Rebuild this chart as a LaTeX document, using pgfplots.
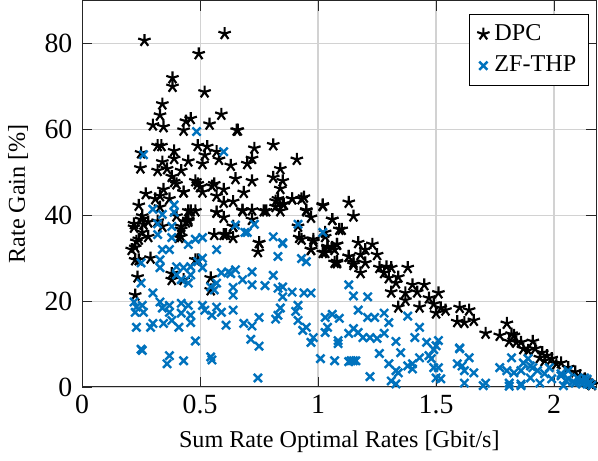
\documentclass[border=0pt]{standalone}
\usepackage{pgfplots}
\pgfplotsset{compat=1.18}
\usepackage{fontspec}
\setmainfont{Liberation Serif}
\definecolor{mblue}{rgb}{0,0.447,0.741}
\definecolor{axgray}{rgb}{0.15,0.15,0.15}
\begin{document}
\begin{tikzpicture}
\begin{axis}[
  width=213pt, height=160pt, scale only axis,
  xmin=0, xmax=2.18, ymin=0, ymax=90,
  xtick={0,0.5,1,1.5,2}, ytick={0,20,40,60,80},
  xticklabels={0,0.5,1,1.5,2},
  /pgf/number format/assume math mode=true,
  xmajorgrids, ymajorgrids,
  major grid style={color=gray!35, line width=0.5pt},
  axis line style={axgray},
  tick style={axgray},
  tick align=inside,
  xtick pos=both, ytick pos=both,
  xlabel={Sum Rate Optimal Rates [Gbit/s]},
  ylabel={Rate Gain [\%]},
  ticklabel style={font=\fontsize{11.5}{13}\selectfont},
  yticklabel style={xshift=-0.5pt},
  legend style={at={(0.985,0.965)}, anchor=north east, draw=black, fill=white, font=\normalsize, cells={anchor=west}, row sep=1pt},
  legend cell align=left,
]
\addplot[only marks, mark=star, mark size=2.7pt, black, line width=0.9pt] coordinates {
(0.264,80.7)(0.604,82.3)(0.494,77.6)(0.383,72)(0.383,70)(0.519,68.7)(0.34,65.9)(0.33,63.3)(0.30,61)(0.345,60.6)
(0.43,59.8)(0.44,61.9)(0.46,62.5)(0.54,61.2)(0.59,63.5)(0.655,59.8)(0.25,54.5)(0.247,51)(0.32,56.2)(0.336,56.2)
(0.39,55)(0.39,53.2)(0.45,52.6)(0.49,56.2)(0.53,56)(0.52,54)(0.57,54.8)(0.51,52)(0.58,53)(0.63,51.6)
(0.70,52)(0.72,53.2)(0.73,55.6)(0.81,56.4)(0.91,53)(0.84,50.8)(0.34,52.4)(0.36,50.8)(0.32,50.4)(0.38,49)
(0.42,50.4)(0.39,47.8)(0.48,48)(0.50,46.6)(0.55,46.8)(0.60,46)(0.51,45.4)(0.57,44.5)(0.345,46)(0.31,43.8)
(0.27,45)(0.24,42.3)(0.43,45.4)(0.46,41)(0.57,40.7)(0.45,39)(0.42,37.4)(0.255,39.8)(0.22,37.2)(0.26,37.9)
(0.255,36)(0.24,34.4)(0.28,35)(0.34,37.4)(0.42,35)(0.56,35.5)(0.60,35.5)(0.60,39.5)(0.65,48.5)(0.72,48)
(0.81,48.8)(0.85,48)(0.84,46.2)(0.685,45.3)(0.64,43.2)(0.60,43)(0.68,41.2)(0.72,41.2)(0.77,41)(0.72,39)
(0.64,37.4)(0.75,33.6)(0.745,31.5)(0.83,43.8)(0.82,42)(0.855,42.5)(0.89,43.8)(0.94,44.2)(0.95,41.2)(0.97,39.5)
(0.915,37.4)(0.93,34.4)(0.98,34.4)(0.97,32)(1.02,42.2)(1.06,39)(1.13,43)(1.15,39.8)(1.09,36.7)(1.03,35)
(1.04,32.5)(1.08,33.2)(1.03,31.3)(1.07,32)(1.08,28.9)(1.13,30.4)(1.15,28.5)(1.17,33.6)(1.18,30.8)(1.20,32)
(1.23,33.2)(1.25,30.8)(1.20,28.9)(1.18,26.6)(1.26,27.8)(1.29,28)(1.31,27.8)(1.28,26.6)(1.30,25.4)(1.34,25.6)
(1.38,27.8)(1.33,24.2)(1.31,22.1)(1.37,21.9)(1.40,23.8)(1.42,22.1)(1.45,23.8)(1.37,20.2)(1.34,18.6)(1.43,18.6)
(1.47,20.7)(1.51,21.9)(1.49,19.3)(1.52,18.4)(1.50,17.2)(1.54,17.9)(1.60,18.5)(1.64,17.9)(1.59,15.2)(1.62,15)
(1.66,15.5)(1.71,12.5)(1.77,12)(1.80,14.8)(1.82,12.3)(1.81,10.6)(1.84,10.4)(1.86,10.4)(1.91,10.6)(1.92,8.9)
(1.89,8.5)(1.95,8)(1.97,7.3)(1.99,6.6)(2.03,5.6)(2.06,4.5)(2.09,3.5)(2.11,2.6)(2.13,1.9)(2.15,0.9)
(2.16,0.5)(1.94,6.8)(1.96,6.1)(2.01,5.4)(1.87,8.9)(1.83,12)(0.225,32.5)(0.24,29.6)(0.29,30)(0.235,25.6)
(0.225,21.4)(0.38,26.4)(0.38,25)(0.48,29.6)(0.545,25.4)(0.545,22.6)(0.43,25)(0.49,29.6)(0.22,38)(0.23,33.9)
(0.21,32)(0.225,29.6)(0.33,44.5)(0.37,43.8)(0.40,47.3)(0.49,47.3)(0.56,47.3)(0.43,45.4)(0.33,41.9)(0.40,39.8)
(0.45,41)(0.48,41)(0.44,38.4)(0.42,36.7)(0.41,34.8)(0.45,38.6)(0.57,40.7)(0.68,41)(0.82,43.3)(0.85,42.6)
(0.84,41)(0.89,43.8)(0.93,43.8)(0.95,41)(1.02,42.4)(1.06,39)(1.04,32.7)(1.08,33.2)(1.08,29.2)(0.61,35.5)
(0.64,34.8)(0.75,33.6)(0.64,37.4)(0.32,38.6)(0.28,38.4)(0.25,39)(0.66,59.8)(0.78,41)(0.92,34.8)(0.98,33.9)
(1.10,36.7)(1.03,36)(0.97,32)(1.02,31.3)(1.06,32.5)(1.07,29)(1.13,30.4)(1.15,29)
};
\addlegendentry{DPC}
\addplot[only marks, mark=x, mark size=2.4pt, mblue, line width=1pt] coordinates {
(0.485,59.5)(0.26,54.1)(0.60,54.8)(0.30,41.4)(0.34,40.2)(0.39,42.4)(0.39,40.7)(0.32,38)(0.38,37.4)(0.32,35.5)
(0.38,34.8)(0.48,34.4)(0.51,34.8)(0.34,32)(0.37,32)(0.45,33.2)(0.57,32)(0.25,28.9)(0.33,29.6)(0.51,30)
(0.49,29.2)(0.33,27.8)(0.40,28)(0.43,27.8)(0.46,28)(0.51,27.8)(0.40,26.1)(0.46,26.1)(0.42,25)(0.45,24.2)
(0.59,26.6)(0.62,26.8)(0.65,27.3)(0.72,26.8)(0.81,26)(0.68,25)(0.72,23.8)(0.775,23.6)(0.64,23.2)(0.57,24.2)
(0.545,23.3)(0.56,22.6)(0.64,21.4)(0.83,23)(0.85,23.3)(0.85,21)(0.89,22.1)(0.94,21.9)(0.97,21.9)(0.25,24.2)
(0.30,21.9)(0.22,19.8)(0.23,18.6)(0.255,19)(0.225,17.4)(0.26,17.4)(0.33,19.8)(0.34,18.4)(0.37,19)(0.42,19.5)
(0.45,19)(0.37,17.4)(0.42,17.2)(0.46,16.7)(0.51,19)(0.52,17.9)(0.57,18.6)(0.55,16.7)(0.59,17.4)(0.64,17.9)
(0.23,13.9)(0.29,13.9)(0.30,14.8)(0.345,14.8)(0.38,15.5)(0.41,13.9)(0.46,15)(0.61,14.4)(0.685,14.8)(0.72,14.2)
(0.75,16.2)(0.82,15.8)(0.84,18.4)(0.83,16.7)(0.915,19)(0.905,17.6)(0.915,15.5)(0.935,13.2)(0.95,13.9)(0.98,11.5)
(0.97,10.4)(1.03,16.2)(1.06,16.9)(1.09,16)(1.04,13.9)(1.03,12.7)(1.085,10.8)(1.085,10.1)(1.13,12.5)(1.15,13.6)
(0.48,10.7)(0.255,8.5)(0.25,8.8)(0.37,7.3)(0.36,5.4)(0.43,6.1)(0.545,7)(0.55,6.3)(0.715,11.1)(0.75,9.5)
(0.745,2.1)(1.01,6.6)(1.07,6.1)(1.13,5.9)(1.15,6.1)(0.915,37.9)(1.02,36)(0.83,30.4)(0.85,33.4)(0.81,35)
(0.69,36)(0.65,37.7)(0.73,37.9)(0.93,29.9)(0.95,29.2)(0.63,26.4)(1.13,23.8)(1.15,21.2)(1.21,21)(1.17,17.9)
(1.21,16.2)(1.24,16.2)(1.28,17.2)(1.30,15)(1.38,16.5)(1.43,13.9)(1.17,12.7)(1.19,11.5)(1.22,11.5)(1.25,11.3)
(1.28,12.5)(1.33,10.6)(1.41,11.5)(1.46,10.4)(1.51,10.8)(1.50,9.6)(1.26,7.8)(1.35,8)(1.43,6.8)(1.47,7.3)
(1.48,6.6)(1.49,8.7)(1.16,6.1)(1.30,5.4)(1.33,3.8)(1.34,3.3)(1.38,4.9)(1.40,4.2)(1.22,2.4)(1.31,1.4)
(1.33,0.7)(1.49,4.5)(1.51,4.5)(1.50,2.1)(1.52,1.9)(1.59,5.4)(1.60,9.1)(1.61,4.9)(1.64,6.8)(1.62,3.8)
(1.66,3.3)(1.62,0.9)(1.70,0.3)(1.82,6.8)(1.77,4.5)(1.80,3.8)(1.83,3.3)(1.86,3.8)(1.87,5.6)(1.89,6.6)
(1.90,4.9)(1.90,2.1)(1.93,3.8)(1.96,3.1)(1.98,4.5)(1.94,0.9)(1.81,0.9)(1.86,0.7)(1.99,1.9)(2.03,2.6)
(2.06,3.8)(2.06,1.9)(2.09,0.9)(2.11,1.4)(2.14,0.7)(2.15,0.9)(2.10,2.1)(2.13,2.1)(2.04,0.3)(1.71,0.9)
(1.91,4.5)(2.03,3.1)(2.12,0.7)(1.81,0.2)(1.86,0.3)(1.40,5.4)(1.60,8.9)(1.14,6.1)(0.70,36)(0.85,33.6)
(2.08,1.2)(2.12,1.5)(2.16,0.4)(2.14,1.8)(2.05,1.5)
};
\addlegendentry{ZF-THP}
\end{axis}
\end{tikzpicture}
\end{document}
